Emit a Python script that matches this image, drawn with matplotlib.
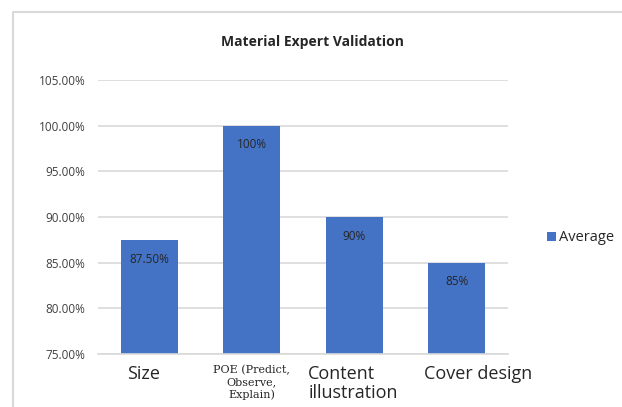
import matplotlib.pyplot as plt
from matplotlib.lines import Line2D

categories = ["Size", "POE (Predict,\nObserve,\nExplain)", "Content\nillustration", "Cover design"]
averages = [87.5, 100, 90, 85]
value_labels = ["87.50%", "100%", "90%", "85%"]
yticks = [75, 80, 85, 90, 95, 100, 105]

bar_color = "#4472C4"
text_color = "#262626"
grid_color = "#d9d9d9"

fig = plt.figure(figsize=(6.22, 4.07), dpi=100)
fig.patch.set_facecolor("white")

# chart area border: only the top and left edges are inside the figure
left, top = 13 / 622, 1 - 12 / 407
fig.add_artist(Line2D([left, left, 1.0], [0.0, top, top], transform=fig.transFigure,
                      color=grid_color, linewidth=1.5))

ax = fig.add_axes([98 / 622, 1 - 354 / 407, (508 - 98) / 622, (354 - 80) / 407])
x = list(range(len(categories)))
ax.bar(x, averages, width=0.56, color=bar_color, zorder=2, label="Average")
ax.set_ylim(75, 105)
ax.set_xlim(-0.5, 3.5)
ax.set_yticks(yticks)
ax.set_yticklabels([f"{v:.2f}%" for v in yticks], fontsize=8.5, color="#404040",
                   family="Open Sans")
ax.yaxis.grid(True, color=grid_color, linewidth=1.2, zorder=0)
ax.tick_params(axis="y", length=0, pad=9)
ax.tick_params(axis="x", length=0)
for side in ["top", "right", "left"]:
    ax.spines[side].set_visible(False)
ax.spines["bottom"].set_color(grid_color)
ax.spines["bottom"].set_linewidth(1.2)

# category labels, set by hand since they differ in size and alignment
ax.set_xticks(x)
ax.set_xticklabels([])
label_y = 73.8
ax.text(-0.06, label_y, categories[0], ha="center", va="top", fontsize=13,
        family="Open Sans", color=text_color)
ax.text(1, label_y, categories[1], ha="center", va="top", fontsize=8,
        family="DejaVu Serif", color=text_color, linespacing=1.25)
ax.text(1.55, label_y, categories[2], ha="left", va="top", fontsize=13,
        family="Open Sans", color=text_color, linespacing=1.05)
ax.text(3.21, label_y, categories[3], ha="center", va="top", fontsize=13,
        family="Open Sans", color=text_color)

for xi, v, lab in zip(x, averages, value_labels):
    ax.text(xi, v - 2.1, lab, ha="center", va="center", fontsize=8.5,
            color=text_color, family="Open Sans", zorder=3)

fig.text(312 / 622, 1 - 42 / 407, "Material Expert Validation", ha="center",
         va="center", fontsize=10, fontweight="bold", family="Open Sans",
         color=text_color)

ax.legend(loc="center left", bbox_to_anchor=(534 / 622, 1 - 238 / 407),
          bbox_transform=fig.transFigure, frameon=False, handlelength=0.6,
          handleheight=0.6, handletextpad=0.2,
          prop={"family": "Open Sans", "size": 10.5}, labelcolor=text_color)

fig.savefig("out.png", dpi=100)
